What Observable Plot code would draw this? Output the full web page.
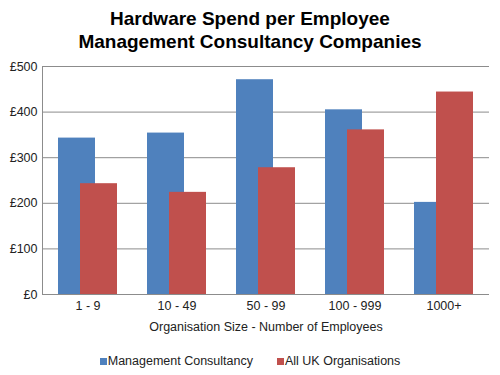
<!DOCTYPE html>
<html>
<head>
<meta charset="utf-8">
<script src="https://cdn.jsdelivr.net/npm/d3@7"></script>
<script src="https://cdn.jsdelivr.net/npm/@observablehq/plot@0.6"></script>
<style>
  html, body { margin: 0; padding: 0; background: #fff; }
  body { width: 500px; height: 375px; overflow: hidden; font-family: "Liberation Sans", Arial, sans-serif; }
  #title { height: 56px; box-sizing: border-box; padding-top: 7px; text-align: center; font-weight: bold; font-size: 19px; line-height: 23px; color: #000; }
  #chart svg { display: block; }
  #legend { display: flex; justify-content: center; align-items: center; gap: 24px; margin-top: 14px; font-size: 12.5px; color: #222; }
  .item { display: flex; align-items: center; }
  .sw { width: 7px; height: 7px; margin-right: 1px; }
</style>
</head>
<body>
<div id="title">Hardware Spend per Employee<br>Management Consultancy Companies</div>
<div id="chart"></div>
<div id="legend"></div>
<script>
const categories = ["1 - 9", "10 - 49", "50 - 99", "100 - 999", "1000+"];
const consultancy = [343, 354, 471, 405, 202];
const allUK = [243, 224, 278, 361, 444];
const seriesNames = ["Management Consultancy", "All UK Organisations"];
const seriesColors = ["#4F81BD", "#C0504D"];
const yTicks = [0, 100, 200, 300, 400, 500];

const rows1 = categories.map((c, i) => ({cat: c, value: consultancy[i]}));
const rows2 = categories.map((c, i) => ({cat: c, value: allUK[i]}));

const plot = Plot.plot({
  width: 500,
  height: 284,
  marginLeft: 42,
  marginRight: 11,
  marginTop: 10,
  marginBottom: 46,
  style: {fontFamily: "Liberation Sans, Arial, sans-serif", fontSize: "12px", color: "#222", background: "#fff"},
  x: {domain: categories, paddingInner: 0.58, paddingOuter: 0.29, align: 0.5},
  y: {domain: [0, 500]},
  marks: [
    Plot.gridY(yTicks, {stroke: "#8c8c8c", strokeOpacity: 1}),
    Plot.barY(rows1, {x: "cat", y: "value", fill: seriesColors[0], dx: -11}),
    Plot.barY(rows2, {x: "cat", y: "value", fill: seriesColors[1], dx: 11}),
    Plot.ruleY([0], {stroke: "#8c8c8c"}),
    Plot.frame({anchor: "left", stroke: "#8c8c8c"}),
    Plot.axisY({ticks: yTicks, tickSize: 0, tickPadding: 5, tickFormat: d => "£" + d, label: null, fontSize: 12.5}),
    Plot.axisX({tickSize: 0, tickPadding: 7, fontSize: 12.5, label: "Organisation Size - Number of Employees", labelAnchor: "center", labelArrow: "none", labelOffset: 36})
  ]
});
document.getElementById("chart").appendChild(plot);

const legend = document.getElementById("legend");
seriesNames.forEach((name, i) => {
  const item = document.createElement("div");
  item.className = "item";
  const sw = document.createElement("span");
  sw.className = "sw";
  sw.style.background = seriesColors[i];
  const t = document.createElement("span");
  t.textContent = name;
  item.appendChild(sw);
  item.appendChild(t);
  legend.appendChild(item);
});
</script>
</body>
</html>
